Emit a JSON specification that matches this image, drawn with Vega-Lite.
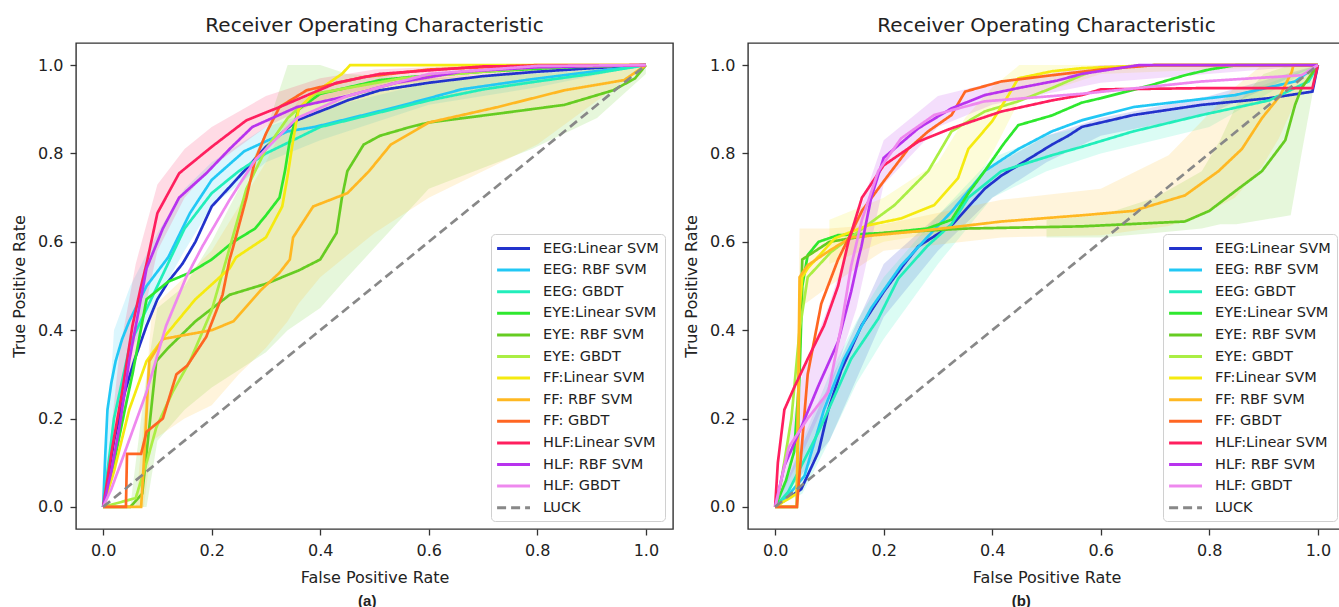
{
"$schema": "https://vega.github.io/schema/vega-lite/v6.json",
"background": "white",
"padding": {"left": 10, "top": 15, "right": 0, "bottom": 0},
"config": {
  "font": "DejaVu Sans",
  "view": {"stroke": "#333333", "strokeWidth": 1.4},
  "axis": {"grid": false, "domain": false, "tickColor": "#333333", "tickWidth": 1.3, "tickSize": 6, "labelColor": "#222222", "labelFontSize": 16, "labelFont": "DejaVu Sans", "titleFont": "DejaVu Sans", "titleFontSize": 16, "titleFontWeight": "normal", "titleColor": "#222222", "labelPadding": 7},
  "axisY": {"titlePadding": 10},
  "axisX": {"titlePadding": 11},
  "legend": {"orient": "bottom-right", "offset": 8, "strokeColor": "#d0d0d0", "fillColor": "rgba(255,255,255,0.85)", "padding": 6, "cornerRadius": 4, "symbolType": "M-1.2,0H3.5", "symbolStrokeWidth": 3, "symbolSize": 196, "labelFontSize": 14.5, "labelFont": "DejaVu Sans", "labelColor": "#222222", "labelLimit": 0, "labelOffset": 29, "rowPadding": 6.6},
  "title": {"font": "DejaVu Sans", "fontSize": 20, "fontWeight": "normal", "color": "#222222", "offset": 7}
},
"datasets": {
  "linesA": [
    {"series":"EEG:Linear SVM","fpr":0,"tpr":0},{"series":"EEG:Linear SVM","fpr":0.02,"tpr":0.15},{"series":"EEG:Linear SVM","fpr":0.04,"tpr":0.26},{"series":"EEG:Linear SVM","fpr":0.057,"tpr":0.33},{"series":"EEG:Linear SVM","fpr":0.08,"tpr":0.41},{"series":"EEG:Linear SVM","fpr":0.1,"tpr":0.47},{"series":"EEG:Linear SVM","fpr":0.12,"tpr":0.51},{"series":"EEG:Linear SVM","fpr":0.146,"tpr":0.55},{"series":"EEG:Linear SVM","fpr":0.17,"tpr":0.6},{"series":"EEG:Linear SVM","fpr":0.2,"tpr":0.68},{"series":"EEG:Linear SVM","fpr":0.245,"tpr":0.74},{"series":"EEG:Linear SVM","fpr":0.3,"tpr":0.815},{"series":"EEG:Linear SVM","fpr":0.357,"tpr":0.875},{"series":"EEG:Linear SVM","fpr":0.42,"tpr":0.905},{"series":"EEG:Linear SVM","fpr":0.45,"tpr":0.92},{"series":"EEG:Linear SVM","fpr":0.51,"tpr":0.943},{"series":"EEG:Linear SVM","fpr":0.6,"tpr":0.96},{"series":"EEG:Linear SVM","fpr":0.7,"tpr":0.975},{"series":"EEG:Linear SVM","fpr":0.8,"tpr":0.985},{"series":"EEG:Linear SVM","fpr":0.9,"tpr":0.993},{"series":"EEG:Linear SVM","fpr":1,"tpr":1},
    {"series":"EEG: RBF SVM","fpr":0,"tpr":0},{"series":"EEG: RBF SVM","fpr":0.004,"tpr":0.12},{"series":"EEG: RBF SVM","fpr":0.008,"tpr":0.22},{"series":"EEG: RBF SVM","fpr":0.015,"tpr":0.28},{"series":"EEG: RBF SVM","fpr":0.023,"tpr":0.33},{"series":"EEG: RBF SVM","fpr":0.035,"tpr":0.38},{"series":"EEG: RBF SVM","fpr":0.048,"tpr":0.42},{"series":"EEG: RBF SVM","fpr":0.08,"tpr":0.5},{"series":"EEG: RBF SVM","fpr":0.12,"tpr":0.565},{"series":"EEG: RBF SVM","fpr":0.16,"tpr":0.665},{"series":"EEG: RBF SVM","fpr":0.2,"tpr":0.74},{"series":"EEG: RBF SVM","fpr":0.26,"tpr":0.805},{"series":"EEG: RBF SVM","fpr":0.34,"tpr":0.85},{"series":"EEG: RBF SVM","fpr":0.39,"tpr":0.86},{"series":"EEG: RBF SVM","fpr":0.44,"tpr":0.875},{"series":"EEG: RBF SVM","fpr":0.54,"tpr":0.905},{"series":"EEG: RBF SVM","fpr":0.66,"tpr":0.945},{"series":"EEG: RBF SVM","fpr":0.79,"tpr":0.968},{"series":"EEG: RBF SVM","fpr":0.9,"tpr":0.985},{"series":"EEG: RBF SVM","fpr":0.97,"tpr":0.995},{"series":"EEG: RBF SVM","fpr":1,"tpr":1},
    {"series":"EEG: GBDT","fpr":0,"tpr":0},{"series":"EEG: GBDT","fpr":0.01,"tpr":0.1},{"series":"EEG: GBDT","fpr":0.02,"tpr":0.2},{"series":"EEG: GBDT","fpr":0.05,"tpr":0.37},{"series":"EEG: GBDT","fpr":0.1,"tpr":0.5},{"series":"EEG: GBDT","fpr":0.15,"tpr":0.63},{"series":"EEG: GBDT","fpr":0.2,"tpr":0.71},{"series":"EEG: GBDT","fpr":0.25,"tpr":0.76},{"series":"EEG: GBDT","fpr":0.3,"tpr":0.8},{"series":"EEG: GBDT","fpr":0.4,"tpr":0.86},{"series":"EEG: GBDT","fpr":0.5,"tpr":0.89},{"series":"EEG: GBDT","fpr":0.6,"tpr":0.92},{"series":"EEG: GBDT","fpr":0.7,"tpr":0.945},{"series":"EEG: GBDT","fpr":0.8,"tpr":0.963},{"series":"EEG: GBDT","fpr":0.9,"tpr":0.98},{"series":"EEG: GBDT","fpr":1,"tpr":1},
    {"series":"EYE:Linear SVM","fpr":0,"tpr":0},{"series":"EYE:Linear SVM","fpr":0.02,"tpr":0.1},{"series":"EYE:Linear SVM","fpr":0.04,"tpr":0.22},{"series":"EYE:Linear SVM","fpr":0.054,"tpr":0.3},{"series":"EYE:Linear SVM","fpr":0.08,"tpr":0.47},{"series":"EYE:Linear SVM","fpr":0.12,"tpr":0.51},{"series":"EYE:Linear SVM","fpr":0.16,"tpr":0.53},{"series":"EYE:Linear SVM","fpr":0.2,"tpr":0.56},{"series":"EYE:Linear SVM","fpr":0.24,"tpr":0.6},{"series":"EYE:Linear SVM","fpr":0.28,"tpr":0.63},{"series":"EYE:Linear SVM","fpr":0.3,"tpr":0.66},{"series":"EYE:Linear SVM","fpr":0.325,"tpr":0.7},{"series":"EYE:Linear SVM","fpr":0.335,"tpr":0.76},{"series":"EYE:Linear SVM","fpr":0.344,"tpr":0.83},{"series":"EYE:Linear SVM","fpr":0.36,"tpr":0.9},{"series":"EYE:Linear SVM","fpr":0.4,"tpr":0.935},{"series":"EYE:Linear SVM","fpr":0.51,"tpr":0.966},{"series":"EYE:Linear SVM","fpr":0.566,"tpr":0.973},{"series":"EYE:Linear SVM","fpr":0.7,"tpr":0.985},{"series":"EYE:Linear SVM","fpr":0.85,"tpr":0.995},{"series":"EYE:Linear SVM","fpr":1,"tpr":1},
    {"series":"EYE: RBF SVM","fpr":0,"tpr":0},{"series":"EYE: RBF SVM","fpr":0.05,"tpr":0},{"series":"EYE: RBF SVM","fpr":0.072,"tpr":0.03},{"series":"EYE: RBF SVM","fpr":0.085,"tpr":0.18},{"series":"EYE: RBF SVM","fpr":0.098,"tpr":0.33},{"series":"EYE: RBF SVM","fpr":0.12,"tpr":0.36},{"series":"EYE: RBF SVM","fpr":0.17,"tpr":0.42},{"series":"EYE: RBF SVM","fpr":0.233,"tpr":0.48},{"series":"EYE: RBF SVM","fpr":0.3,"tpr":0.505},{"series":"EYE: RBF SVM","fpr":0.36,"tpr":0.535},{"series":"EYE: RBF SVM","fpr":0.4,"tpr":0.56},{"series":"EYE: RBF SVM","fpr":0.43,"tpr":0.62},{"series":"EYE: RBF SVM","fpr":0.44,"tpr":0.7},{"series":"EYE: RBF SVM","fpr":0.45,"tpr":0.76},{"series":"EYE: RBF SVM","fpr":0.48,"tpr":0.82},{"series":"EYE: RBF SVM","fpr":0.51,"tpr":0.84},{"series":"EYE: RBF SVM","fpr":0.566,"tpr":0.86},{"series":"EYE: RBF SVM","fpr":0.6,"tpr":0.87},{"series":"EYE: RBF SVM","fpr":0.727,"tpr":0.89},{"series":"EYE: RBF SVM","fpr":0.85,"tpr":0.91},{"series":"EYE: RBF SVM","fpr":0.94,"tpr":0.943},{"series":"EYE: RBF SVM","fpr":0.98,"tpr":0.97},{"series":"EYE: RBF SVM","fpr":1,"tpr":1},
    {"series":"EYE: GBDT","fpr":0,"tpr":0},{"series":"EYE: GBDT","fpr":0.06,"tpr":0.02},{"series":"EYE: GBDT","fpr":0.08,"tpr":0.1},{"series":"EYE: GBDT","fpr":0.098,"tpr":0.18},{"series":"EYE: GBDT","fpr":0.128,"tpr":0.26},{"series":"EYE: GBDT","fpr":0.16,"tpr":0.33},{"series":"EYE: GBDT","fpr":0.2,"tpr":0.445},{"series":"EYE: GBDT","fpr":0.227,"tpr":0.56},{"series":"EYE: GBDT","fpr":0.264,"tpr":0.72},{"series":"EYE: GBDT","fpr":0.3,"tpr":0.81},{"series":"EYE: GBDT","fpr":0.34,"tpr":0.88},{"series":"EYE: GBDT","fpr":0.39,"tpr":0.935},{"series":"EYE: GBDT","fpr":0.55,"tpr":0.97},{"series":"EYE: GBDT","fpr":0.8,"tpr":0.995},{"series":"EYE: GBDT","fpr":1,"tpr":1},
    {"series":"FF:Linear SVM","fpr":0,"tpr":0},{"series":"FF:Linear SVM","fpr":0.02,"tpr":0.08},{"series":"FF:Linear SVM","fpr":0.048,"tpr":0.22},{"series":"FF:Linear SVM","fpr":0.08,"tpr":0.33},{"series":"FF:Linear SVM","fpr":0.116,"tpr":0.39},{"series":"FF:Linear SVM","fpr":0.17,"tpr":0.47},{"series":"FF:Linear SVM","fpr":0.233,"tpr":0.54},{"series":"FF:Linear SVM","fpr":0.245,"tpr":0.565},{"series":"FF:Linear SVM","fpr":0.3,"tpr":0.61},{"series":"FF:Linear SVM","fpr":0.33,"tpr":0.68},{"series":"FF:Linear SVM","fpr":0.34,"tpr":0.75},{"series":"FF:Linear SVM","fpr":0.35,"tpr":0.83},{"series":"FF:Linear SVM","fpr":0.36,"tpr":0.9},{"series":"FF:Linear SVM","fpr":0.387,"tpr":0.935},{"series":"FF:Linear SVM","fpr":0.44,"tpr":0.98},{"series":"FF:Linear SVM","fpr":0.455,"tpr":1},{"series":"FF:Linear SVM","fpr":1,"tpr":1},
    {"series":"FF: RBF SVM","fpr":0,"tpr":0},{"series":"FF: RBF SVM","fpr":0.07,"tpr":0},{"series":"FF: RBF SVM","fpr":0.075,"tpr":0.1},{"series":"FF: RBF SVM","fpr":0.085,"tpr":0.33},{"series":"FF: RBF SVM","fpr":0.11,"tpr":0.38},{"series":"FF: RBF SVM","fpr":0.2,"tpr":0.4},{"series":"FF: RBF SVM","fpr":0.24,"tpr":0.42},{"series":"FF: RBF SVM","fpr":0.29,"tpr":0.49},{"series":"FF: RBF SVM","fpr":0.325,"tpr":0.53},{"series":"FF: RBF SVM","fpr":0.344,"tpr":0.56},{"series":"FF: RBF SVM","fpr":0.35,"tpr":0.61},{"series":"FF: RBF SVM","fpr":0.387,"tpr":0.68},{"series":"FF: RBF SVM","fpr":0.45,"tpr":0.71},{"series":"FF: RBF SVM","fpr":0.49,"tpr":0.76},{"series":"FF: RBF SVM","fpr":0.53,"tpr":0.82},{"series":"FF: RBF SVM","fpr":0.6,"tpr":0.87},{"series":"FF: RBF SVM","fpr":0.727,"tpr":0.905},{"series":"FF: RBF SVM","fpr":0.85,"tpr":0.943},{"series":"FF: RBF SVM","fpr":0.96,"tpr":0.966},{"series":"FF: RBF SVM","fpr":1,"tpr":1},
    {"series":"FF: GBDT","fpr":0,"tpr":0},{"series":"FF: GBDT","fpr":0.042,"tpr":0},{"series":"FF: GBDT","fpr":0.044,"tpr":0.12},{"series":"FF: GBDT","fpr":0.07,"tpr":0.12},{"series":"FF: GBDT","fpr":0.08,"tpr":0.17},{"series":"FF: GBDT","fpr":0.11,"tpr":0.2},{"series":"FF: GBDT","fpr":0.135,"tpr":0.3},{"series":"FF: GBDT","fpr":0.155,"tpr":0.32},{"series":"FF: GBDT","fpr":0.19,"tpr":0.385},{"series":"FF: GBDT","fpr":0.22,"tpr":0.48},{"series":"FF: GBDT","fpr":0.233,"tpr":0.56},{"series":"FF: GBDT","fpr":0.24,"tpr":0.59},{"series":"FF: GBDT","fpr":0.264,"tpr":0.7},{"series":"FF: GBDT","fpr":0.28,"tpr":0.785},{"series":"FF: GBDT","fpr":0.3,"tpr":0.845},{"series":"FF: GBDT","fpr":0.325,"tpr":0.905},{"series":"FF: GBDT","fpr":0.375,"tpr":0.943},{"series":"FF: GBDT","fpr":0.48,"tpr":0.973},{"series":"FF: GBDT","fpr":0.6,"tpr":0.99},{"series":"FF: GBDT","fpr":0.8,"tpr":1},{"series":"FF: GBDT","fpr":1,"tpr":1},
    {"series":"HLF:Linear SVM","fpr":0,"tpr":0},{"series":"HLF:Linear SVM","fpr":0.017,"tpr":0.135},{"series":"HLF:Linear SVM","fpr":0.035,"tpr":0.26},{"series":"HLF:Linear SVM","fpr":0.054,"tpr":0.41},{"series":"HLF:Linear SVM","fpr":0.07,"tpr":0.5},{"series":"HLF:Linear SVM","fpr":0.08,"tpr":0.55},{"series":"HLF:Linear SVM","fpr":0.1,"tpr":0.665},{"series":"HLF:Linear SVM","fpr":0.14,"tpr":0.755},{"series":"HLF:Linear SVM","fpr":0.2,"tpr":0.815},{"series":"HLF:Linear SVM","fpr":0.264,"tpr":0.875},{"series":"HLF:Linear SVM","fpr":0.325,"tpr":0.905},{"series":"HLF:Linear SVM","fpr":0.43,"tpr":0.96},{"series":"HLF:Linear SVM","fpr":0.51,"tpr":0.98},{"series":"HLF:Linear SVM","fpr":0.7,"tpr":0.997},{"series":"HLF:Linear SVM","fpr":1,"tpr":1},
    {"series":"HLF: RBF SVM","fpr":0,"tpr":0},{"series":"HLF: RBF SVM","fpr":0.015,"tpr":0.08},{"series":"HLF: RBF SVM","fpr":0.03,"tpr":0.18},{"series":"HLF: RBF SVM","fpr":0.048,"tpr":0.33},{"series":"HLF: RBF SVM","fpr":0.08,"tpr":0.54},{"series":"HLF: RBF SVM","fpr":0.11,"tpr":0.63},{"series":"HLF: RBF SVM","fpr":0.14,"tpr":0.7},{"series":"HLF: RBF SVM","fpr":0.19,"tpr":0.755},{"series":"HLF: RBF SVM","fpr":0.233,"tpr":0.81},{"series":"HLF: RBF SVM","fpr":0.275,"tpr":0.86},{"series":"HLF: RBF SVM","fpr":0.357,"tpr":0.905},{"series":"HLF: RBF SVM","fpr":0.45,"tpr":0.93},{"series":"HLF: RBF SVM","fpr":0.54,"tpr":0.96},{"series":"HLF: RBF SVM","fpr":0.66,"tpr":0.985},{"series":"HLF: RBF SVM","fpr":0.8,"tpr":0.995},{"series":"HLF: RBF SVM","fpr":1,"tpr":1},
    {"series":"HLF: GBDT","fpr":0,"tpr":0},{"series":"HLF: GBDT","fpr":0.015,"tpr":0.04},{"series":"HLF: GBDT","fpr":0.03,"tpr":0.09},{"series":"HLF: GBDT","fpr":0.08,"tpr":0.26},{"series":"HLF: GBDT","fpr":0.116,"tpr":0.41},{"series":"HLF: GBDT","fpr":0.153,"tpr":0.52},{"series":"HLF: GBDT","fpr":0.183,"tpr":0.59},{"series":"HLF: GBDT","fpr":0.233,"tpr":0.695},{"series":"HLF: GBDT","fpr":0.28,"tpr":0.785},{"series":"HLF: GBDT","fpr":0.357,"tpr":0.88},{"series":"HLF: GBDT","fpr":0.45,"tpr":0.93},{"series":"HLF: GBDT","fpr":0.6,"tpr":0.98},{"series":"HLF: GBDT","fpr":0.8,"tpr":0.998},{"series":"HLF: GBDT","fpr":1,"tpr":1},
    {"series":"LUCK","fpr":0,"tpr":0},{"series":"LUCK","fpr":1,"tpr":1}
  ],
  "linesB": [
    {"series":"EEG:Linear SVM","fpr":0,"tpr":0},{"series":"EEG:Linear SVM","fpr":0.048,"tpr":0.04},{"series":"EEG:Linear SVM","fpr":0.08,"tpr":0.125},{"series":"EEG:Linear SVM","fpr":0.098,"tpr":0.22},{"series":"EEG:Linear SVM","fpr":0.122,"tpr":0.31},{"series":"EEG:Linear SVM","fpr":0.159,"tpr":0.41},{"series":"EEG:Linear SVM","fpr":0.2,"tpr":0.487},{"series":"EEG:Linear SVM","fpr":0.238,"tpr":0.55},{"series":"EEG:Linear SVM","fpr":0.264,"tpr":0.59},{"series":"EEG:Linear SVM","fpr":0.325,"tpr":0.637},{"series":"EEG:Linear SVM","fpr":0.386,"tpr":0.72},{"series":"EEG:Linear SVM","fpr":0.417,"tpr":0.75},{"series":"EEG:Linear SVM","fpr":0.448,"tpr":0.773},{"series":"EEG:Linear SVM","fpr":0.51,"tpr":0.82},{"series":"EEG:Linear SVM","fpr":0.54,"tpr":0.84},{"series":"EEG:Linear SVM","fpr":0.565,"tpr":0.86},{"series":"EEG:Linear SVM","fpr":0.66,"tpr":0.887},{"series":"EEG:Linear SVM","fpr":0.786,"tpr":0.91},{"series":"EEG:Linear SVM","fpr":0.91,"tpr":0.925},{"series":"EEG:Linear SVM","fpr":0.99,"tpr":0.94},{"series":"EEG:Linear SVM","fpr":1,"tpr":1},
    {"series":"EEG: RBF SVM","fpr":0,"tpr":0},{"series":"EEG: RBF SVM","fpr":0.02,"tpr":0.02},{"series":"EEG: RBF SVM","fpr":0.054,"tpr":0.07},{"series":"EEG: RBF SVM","fpr":0.09,"tpr":0.22},{"series":"EEG: RBF SVM","fpr":0.127,"tpr":0.335},{"series":"EEG: RBF SVM","fpr":0.177,"tpr":0.45},{"series":"EEG: RBF SVM","fpr":0.232,"tpr":0.546},{"series":"EEG: RBF SVM","fpr":0.28,"tpr":0.61},{"series":"EEG: RBF SVM","fpr":0.325,"tpr":0.668},{"series":"EEG: RBF SVM","fpr":0.386,"tpr":0.76},{"series":"EEG: RBF SVM","fpr":0.448,"tpr":0.81},{"series":"EEG: RBF SVM","fpr":0.51,"tpr":0.85},{"series":"EEG: RBF SVM","fpr":0.565,"tpr":0.875},{"series":"EEG: RBF SVM","fpr":0.66,"tpr":0.905},{"series":"EEG: RBF SVM","fpr":0.847,"tpr":0.932},{"series":"EEG: RBF SVM","fpr":0.958,"tpr":0.963},{"series":"EEG: RBF SVM","fpr":1,"tpr":1},
    {"series":"EEG: GBDT","fpr":0,"tpr":0},{"series":"EEG: GBDT","fpr":0.024,"tpr":0.034},{"series":"EEG: GBDT","fpr":0.08,"tpr":0.17},{"series":"EEG: GBDT","fpr":0.14,"tpr":0.335},{"series":"EEG: GBDT","fpr":0.19,"tpr":0.426},{"series":"EEG: GBDT","fpr":0.227,"tpr":0.517},{"series":"EEG: GBDT","fpr":0.28,"tpr":0.59},{"series":"EEG: GBDT","fpr":0.325,"tpr":0.64},{"series":"EEG: GBDT","fpr":0.356,"tpr":0.7},{"series":"EEG: GBDT","fpr":0.417,"tpr":0.76},{"series":"EEG: GBDT","fpr":0.51,"tpr":0.796},{"series":"EEG: GBDT","fpr":0.565,"tpr":0.815},{"series":"EEG: GBDT","fpr":0.66,"tpr":0.85},{"series":"EEG: GBDT","fpr":0.786,"tpr":0.887},{"series":"EEG: GBDT","fpr":0.91,"tpr":0.92},{"series":"EEG: GBDT","fpr":0.983,"tpr":0.963},{"series":"EEG: GBDT","fpr":1,"tpr":1},
    {"series":"EYE:Linear SVM","fpr":0,"tpr":0},{"series":"EYE:Linear SVM","fpr":0.02,"tpr":0.06},{"series":"EYE:Linear SVM","fpr":0.035,"tpr":0.125},{"series":"EYE:Linear SVM","fpr":0.045,"tpr":0.3},{"series":"EYE:Linear SVM","fpr":0.05,"tpr":0.5},{"series":"EYE:Linear SVM","fpr":0.06,"tpr":0.57},{"series":"EYE:Linear SVM","fpr":0.08,"tpr":0.6},{"series":"EYE:Linear SVM","fpr":0.116,"tpr":0.615},{"series":"EYE:Linear SVM","fpr":0.2,"tpr":0.62},{"series":"EYE:Linear SVM","fpr":0.28,"tpr":0.63},{"series":"EYE:Linear SVM","fpr":0.325,"tpr":0.65},{"series":"EYE:Linear SVM","fpr":0.356,"tpr":0.71},{"series":"EYE:Linear SVM","fpr":0.386,"tpr":0.76},{"series":"EYE:Linear SVM","fpr":0.42,"tpr":0.82},{"series":"EYE:Linear SVM","fpr":0.448,"tpr":0.864},{"series":"EYE:Linear SVM","fpr":0.51,"tpr":0.886},{"series":"EYE:Linear SVM","fpr":0.565,"tpr":0.915},{"series":"EYE:Linear SVM","fpr":0.6,"tpr":0.925},{"series":"EYE:Linear SVM","fpr":0.694,"tpr":0.955},{"series":"EYE:Linear SVM","fpr":0.755,"tpr":0.977},{"series":"EYE:Linear SVM","fpr":0.8,"tpr":0.99},{"series":"EYE:Linear SVM","fpr":0.85,"tpr":1},{"series":"EYE:Linear SVM","fpr":1,"tpr":1},
    {"series":"EYE: RBF SVM","fpr":0,"tpr":0},{"series":"EYE: RBF SVM","fpr":0.04,"tpr":0},{"series":"EYE: RBF SVM","fpr":0.045,"tpr":0.35},{"series":"EYE: RBF SVM","fpr":0.05,"tpr":0.56},{"series":"EYE: RBF SVM","fpr":0.1,"tpr":0.6},{"series":"EYE: RBF SVM","fpr":0.2,"tpr":0.62},{"series":"EYE: RBF SVM","fpr":0.35,"tpr":0.63},{"series":"EYE: RBF SVM","fpr":0.565,"tpr":0.635},{"series":"EYE: RBF SVM","fpr":0.755,"tpr":0.646},{"series":"EYE: RBF SVM","fpr":0.8,"tpr":0.67},{"series":"EYE: RBF SVM","fpr":0.847,"tpr":0.714},{"series":"EYE: RBF SVM","fpr":0.897,"tpr":0.76},{"series":"EYE: RBF SVM","fpr":0.94,"tpr":0.83},{"series":"EYE: RBF SVM","fpr":0.958,"tpr":0.91},{"series":"EYE: RBF SVM","fpr":0.97,"tpr":0.948},{"series":"EYE: RBF SVM","fpr":1,"tpr":1},
    {"series":"EYE: GBDT","fpr":0,"tpr":0},{"series":"EYE: GBDT","fpr":0.01,"tpr":0.05},{"series":"EYE: GBDT","fpr":0.03,"tpr":0.2},{"series":"EYE: GBDT","fpr":0.045,"tpr":0.4},{"series":"EYE: GBDT","fpr":0.06,"tpr":0.52},{"series":"EYE: GBDT","fpr":0.103,"tpr":0.577},{"series":"EYE: GBDT","fpr":0.15,"tpr":0.62},{"series":"EYE: GBDT","fpr":0.22,"tpr":0.683},{"series":"EYE: GBDT","fpr":0.282,"tpr":0.76},{"series":"EYE: GBDT","fpr":0.325,"tpr":0.85},{"series":"EYE: GBDT","fpr":0.386,"tpr":0.895},{"series":"EYE: GBDT","fpr":0.448,"tpr":0.918},{"series":"EYE: GBDT","fpr":0.51,"tpr":0.948},{"series":"EYE: GBDT","fpr":0.565,"tpr":0.977},{"series":"EYE: GBDT","fpr":0.6,"tpr":0.993},{"series":"EYE: GBDT","fpr":0.7,"tpr":1},{"series":"EYE: GBDT","fpr":1,"tpr":1},
    {"series":"FF:Linear SVM","fpr":0,"tpr":0},{"series":"FF:Linear SVM","fpr":0.04,"tpr":0.03},{"series":"FF:Linear SVM","fpr":0.045,"tpr":0.45},{"series":"FF:Linear SVM","fpr":0.05,"tpr":0.52},{"series":"FF:Linear SVM","fpr":0.06,"tpr":0.54},{"series":"FF:Linear SVM","fpr":0.11,"tpr":0.608},{"series":"FF:Linear SVM","fpr":0.17,"tpr":0.637},{"series":"FF:Linear SVM","fpr":0.232,"tpr":0.653},{"series":"FF:Linear SVM","fpr":0.293,"tpr":0.683},{"series":"FF:Linear SVM","fpr":0.337,"tpr":0.744},{"series":"FF:Linear SVM","fpr":0.356,"tpr":0.81},{"series":"FF:Linear SVM","fpr":0.4,"tpr":0.873},{"series":"FF:Linear SVM","fpr":0.43,"tpr":0.932},{"series":"FF:Linear SVM","fpr":0.448,"tpr":0.97},{"series":"FF:Linear SVM","fpr":0.51,"tpr":0.986},{"series":"FF:Linear SVM","fpr":0.565,"tpr":0.993},{"series":"FF:Linear SVM","fpr":0.7,"tpr":1},{"series":"FF:Linear SVM","fpr":1,"tpr":1},
    {"series":"FF: RBF SVM","fpr":0,"tpr":0},{"series":"FF: RBF SVM","fpr":0.04,"tpr":0},{"series":"FF: RBF SVM","fpr":0.043,"tpr":0.3},{"series":"FF: RBF SVM","fpr":0.045,"tpr":0.52},{"series":"FF: RBF SVM","fpr":0.06,"tpr":0.547},{"series":"FF: RBF SVM","fpr":0.1,"tpr":0.58},{"series":"FF: RBF SVM","fpr":0.14,"tpr":0.61},{"series":"FF: RBF SVM","fpr":0.264,"tpr":0.624},{"series":"FF: RBF SVM","fpr":0.417,"tpr":0.646},{"series":"FF: RBF SVM","fpr":0.565,"tpr":0.66},{"series":"FF: RBF SVM","fpr":0.66,"tpr":0.67},{"series":"FF: RBF SVM","fpr":0.755,"tpr":0.705},{"series":"FF: RBF SVM","fpr":0.817,"tpr":0.76},{"series":"FF: RBF SVM","fpr":0.86,"tpr":0.81},{"series":"FF: RBF SVM","fpr":0.897,"tpr":0.88},{"series":"FF: RBF SVM","fpr":0.93,"tpr":0.93},{"series":"FF: RBF SVM","fpr":0.952,"tpr":0.985},{"series":"FF: RBF SVM","fpr":0.955,"tpr":1},{"series":"FF: RBF SVM","fpr":1,"tpr":1},
    {"series":"FF: GBDT","fpr":0,"tpr":0},{"series":"FF: GBDT","fpr":0.04,"tpr":0},{"series":"FF: GBDT","fpr":0.05,"tpr":0.15},{"series":"FF: GBDT","fpr":0.06,"tpr":0.3},{"series":"FF: GBDT","fpr":0.085,"tpr":0.46},{"series":"FF: GBDT","fpr":0.116,"tpr":0.56},{"series":"FF: GBDT","fpr":0.16,"tpr":0.67},{"series":"FF: GBDT","fpr":0.2,"tpr":0.737},{"series":"FF: GBDT","fpr":0.245,"tpr":0.81},{"series":"FF: GBDT","fpr":0.282,"tpr":0.85},{"series":"FF: GBDT","fpr":0.325,"tpr":0.887},{"series":"FF: GBDT","fpr":0.35,"tpr":0.94},{"series":"FF: GBDT","fpr":0.417,"tpr":0.963},{"series":"FF: GBDT","fpr":0.51,"tpr":0.977},{"series":"FF: GBDT","fpr":0.6,"tpr":0.99},{"series":"FF: GBDT","fpr":0.7,"tpr":1},{"series":"FF: GBDT","fpr":1,"tpr":1},
    {"series":"HLF:Linear SVM","fpr":0,"tpr":0},{"series":"HLF:Linear SVM","fpr":0.005,"tpr":0.1},{"series":"HLF:Linear SVM","fpr":0.017,"tpr":0.22},{"series":"HLF:Linear SVM","fpr":0.035,"tpr":0.27},{"series":"HLF:Linear SVM","fpr":0.06,"tpr":0.335},{"series":"HLF:Linear SVM","fpr":0.09,"tpr":0.41},{"series":"HLF:Linear SVM","fpr":0.116,"tpr":0.5},{"series":"HLF:Linear SVM","fpr":0.135,"tpr":0.6},{"series":"HLF:Linear SVM","fpr":0.16,"tpr":0.7},{"series":"HLF:Linear SVM","fpr":0.2,"tpr":0.773},{"series":"HLF:Linear SVM","fpr":0.264,"tpr":0.827},{"series":"HLF:Linear SVM","fpr":0.325,"tpr":0.857},{"series":"HLF:Linear SVM","fpr":0.417,"tpr":0.895},{"series":"HLF:Linear SVM","fpr":0.51,"tpr":0.92},{"series":"HLF:Linear SVM","fpr":0.565,"tpr":0.932},{"series":"HLF:Linear SVM","fpr":0.6,"tpr":0.945},{"series":"HLF:Linear SVM","fpr":0.8,"tpr":0.948},{"series":"HLF:Linear SVM","fpr":0.99,"tpr":0.948},{"series":"HLF:Linear SVM","fpr":1,"tpr":1},
    {"series":"HLF: RBF SVM","fpr":0,"tpr":0},{"series":"HLF: RBF SVM","fpr":0.017,"tpr":0.093},{"series":"HLF: RBF SVM","fpr":0.048,"tpr":0.18},{"series":"HLF: RBF SVM","fpr":0.08,"tpr":0.275},{"series":"HLF: RBF SVM","fpr":0.116,"tpr":0.374},{"series":"HLF: RBF SVM","fpr":0.14,"tpr":0.487},{"series":"HLF: RBF SVM","fpr":0.153,"tpr":0.56},{"series":"HLF: RBF SVM","fpr":0.159,"tpr":0.59},{"series":"HLF: RBF SVM","fpr":0.177,"tpr":0.7},{"series":"HLF: RBF SVM","fpr":0.2,"tpr":0.79},{"series":"HLF: RBF SVM","fpr":0.264,"tpr":0.857},{"series":"HLF: RBF SVM","fpr":0.325,"tpr":0.902},{"series":"HLF: RBF SVM","fpr":0.386,"tpr":0.932},{"series":"HLF: RBF SVM","fpr":0.448,"tpr":0.948},{"series":"HLF: RBF SVM","fpr":0.52,"tpr":0.965},{"series":"HLF: RBF SVM","fpr":0.565,"tpr":0.98},{"series":"HLF: RBF SVM","fpr":0.67,"tpr":1},{"series":"HLF: RBF SVM","fpr":1,"tpr":1},
    {"series":"HLF: GBDT","fpr":0,"tpr":0},{"series":"HLF: GBDT","fpr":0.025,"tpr":0.135},{"series":"HLF: GBDT","fpr":0.06,"tpr":0.2},{"series":"HLF: GBDT","fpr":0.098,"tpr":0.26},{"series":"HLF: GBDT","fpr":0.122,"tpr":0.41},{"series":"HLF: GBDT","fpr":0.14,"tpr":0.545},{"series":"HLF: GBDT","fpr":0.16,"tpr":0.65},{"series":"HLF: GBDT","fpr":0.19,"tpr":0.76},{"series":"HLF: GBDT","fpr":0.232,"tpr":0.834},{"series":"HLF: GBDT","fpr":0.293,"tpr":0.887},{"series":"HLF: GBDT","fpr":0.386,"tpr":0.918},{"series":"HLF: GBDT","fpr":0.565,"tpr":0.935},{"series":"HLF: GBDT","fpr":0.786,"tpr":0.963},{"series":"HLF: GBDT","fpr":0.97,"tpr":0.977},{"series":"HLF: GBDT","fpr":1,"tpr":1},
    {"series":"LUCK","fpr":0,"tpr":0},{"series":"LUCK","fpr":1,"tpr":1}
  ],
  "bandsA": [
    {"series":"EEG: RBF SVM","fpr":0,"lo":0,"hi":0},{"series":"EEG: RBF SVM","fpr":0.02,"lo":0.2,"hi":0.4},{"series":"EEG: RBF SVM","fpr":0.05,"lo":0.35,"hi":0.5},{"series":"EEG: RBF SVM","fpr":0.1,"lo":0.47,"hi":0.62},{"series":"EEG: RBF SVM","fpr":0.15,"lo":0.58,"hi":0.72},{"series":"EEG: RBF SVM","fpr":0.2,"lo":0.68,"hi":0.78},{"series":"EEG: RBF SVM","fpr":0.3,"lo":0.78,"hi":0.86},{"series":"EEG: RBF SVM","fpr":0.4,"lo":0.83,"hi":0.9},{"series":"EEG: RBF SVM","fpr":0.5,"lo":0.87,"hi":0.93},{"series":"EEG: RBF SVM","fpr":0.6,"lo":0.91,"hi":0.96},{"series":"EEG: RBF SVM","fpr":0.8,"lo":0.95,"hi":0.99},{"series":"EEG: RBF SVM","fpr":1,"lo":1,"hi":1},
    {"series":"EYE: RBF SVM","fpr":0.05,"lo":0,"hi":0},{"series":"EYE: RBF SVM","fpr":0.08,"lo":0,"hi":0.3},{"series":"EYE: RBF SVM","fpr":0.1,"lo":0.15,"hi":0.45},{"series":"EYE: RBF SVM","fpr":0.15,"lo":0.22,"hi":0.5},{"series":"EYE: RBF SVM","fpr":0.2,"lo":0.27,"hi":0.6},{"series":"EYE: RBF SVM","fpr":0.25,"lo":0.31,"hi":0.72},{"series":"EYE: RBF SVM","fpr":0.3,"lo":0.35,"hi":0.85},{"series":"EYE: RBF SVM","fpr":0.34,"lo":0.4,"hi":1},{"series":"EYE: RBF SVM","fpr":0.4,"lo":0.45,"hi":1},{"series":"EYE: RBF SVM","fpr":0.45,"lo":0.52,"hi":0.98},{"series":"EYE: RBF SVM","fpr":0.6,"lo":0.72,"hi":0.97},{"series":"EYE: RBF SVM","fpr":0.79,"lo":0.81,"hi":0.98},{"series":"EYE: RBF SVM","fpr":0.91,"lo":0.88,"hi":0.99},{"series":"EYE: RBF SVM","fpr":1,"lo":0.98,"hi":1},
    {"series":"FF: RBF SVM","fpr":0.06,"lo":0,"hi":0},{"series":"FF: RBF SVM","fpr":0.075,"lo":0,"hi":0.2},{"series":"FF: RBF SVM","fpr":0.09,"lo":0.15,"hi":0.45},{"series":"FF: RBF SVM","fpr":0.15,"lo":0.2,"hi":0.52},{"series":"FF: RBF SVM","fpr":0.2,"lo":0.23,"hi":0.58},{"series":"FF: RBF SVM","fpr":0.25,"lo":0.3,"hi":0.68},{"series":"FF: RBF SVM","fpr":0.3,"lo":0.36,"hi":0.78},{"series":"FF: RBF SVM","fpr":0.34,"lo":0.42,"hi":0.88},{"series":"FF: RBF SVM","fpr":0.36,"lo":0.46,"hi":0.92},{"series":"FF: RBF SVM","fpr":0.4,"lo":0.52,"hi":0.94},{"series":"FF: RBF SVM","fpr":0.5,"lo":0.62,"hi":0.96},{"series":"FF: RBF SVM","fpr":0.6,"lo":0.7,"hi":0.97},{"series":"FF: RBF SVM","fpr":0.8,"lo":0.82,"hi":0.99},{"series":"FF: RBF SVM","fpr":1,"lo":1,"hi":1},
    {"series":"HLF:Linear SVM","fpr":0,"lo":0,"hi":0},{"series":"HLF:Linear SVM","fpr":0.03,"lo":0.15,"hi":0.35},{"series":"HLF:Linear SVM","fpr":0.06,"lo":0.35,"hi":0.55},{"series":"HLF:Linear SVM","fpr":0.1,"lo":0.58,"hi":0.73},{"series":"HLF:Linear SVM","fpr":0.15,"lo":0.7,"hi":0.81},{"series":"HLF:Linear SVM","fpr":0.2,"lo":0.77,"hi":0.86},{"series":"HLF:Linear SVM","fpr":0.3,"lo":0.86,"hi":0.93},{"series":"HLF:Linear SVM","fpr":0.4,"lo":0.92,"hi":0.97},{"series":"HLF:Linear SVM","fpr":0.5,"lo":0.95,"hi":0.99},{"series":"HLF:Linear SVM","fpr":0.7,"lo":0.98,"hi":1},{"series":"HLF:Linear SVM","fpr":1,"lo":1,"hi":1}
  ],
  "bandsB": [
    {"series":"EEG:Linear SVM","fpr":0,"lo":0,"hi":0},{"series":"EEG:Linear SVM","fpr":0.1,"lo":0.15,"hi":0.28},{"series":"EEG:Linear SVM","fpr":0.2,"lo":0.43,"hi":0.55},{"series":"EEG:Linear SVM","fpr":0.3,"lo":0.58,"hi":0.66},{"series":"EEG:Linear SVM","fpr":0.4,"lo":0.7,"hi":0.77},{"series":"EEG:Linear SVM","fpr":0.5,"lo":0.78,"hi":0.84},{"series":"EEG:Linear SVM","fpr":0.6,"lo":0.84,"hi":0.88},{"series":"EEG:Linear SVM","fpr":0.8,"lo":0.89,"hi":0.93},{"series":"EEG:Linear SVM","fpr":1,"lo":1,"hi":1},
    {"series":"EEG: GBDT","fpr":0,"lo":0,"hi":0},{"series":"EEG: GBDT","fpr":0.05,"lo":0.03,"hi":0.15},{"series":"EEG: GBDT","fpr":0.1,"lo":0.15,"hi":0.3},{"series":"EEG: GBDT","fpr":0.15,"lo":0.28,"hi":0.42},{"series":"EEG: GBDT","fpr":0.2,"lo":0.38,"hi":0.52},{"series":"EEG: GBDT","fpr":0.3,"lo":0.55,"hi":0.66},{"series":"EEG: GBDT","fpr":0.4,"lo":0.7,"hi":0.79},{"series":"EEG: GBDT","fpr":0.5,"lo":0.76,"hi":0.84},{"series":"EEG: GBDT","fpr":0.6,"lo":0.8,"hi":0.87},{"series":"EEG: GBDT","fpr":0.8,"lo":0.86,"hi":0.91},{"series":"EEG: GBDT","fpr":1,"lo":1,"hi":1},
    {"series":"EYE: RBF SVM","fpr":0.5,"lo":0.61,"hi":0.65},{"series":"EYE: RBF SVM","fpr":0.6,"lo":0.61,"hi":0.66},{"series":"EYE: RBF SVM","fpr":0.7,"lo":0.62,"hi":0.7},{"series":"EYE: RBF SVM","fpr":0.786,"lo":0.63,"hi":0.76},{"series":"EYE: RBF SVM","fpr":0.82,"lo":0.64,"hi":0.83},{"series":"EYE: RBF SVM","fpr":0.85,"lo":0.64,"hi":0.91},{"series":"EYE: RBF SVM","fpr":0.9,"lo":0.65,"hi":0.98},{"series":"EYE: RBF SVM","fpr":0.95,"lo":0.66,"hi":1},{"series":"EYE: RBF SVM","fpr":0.97,"lo":0.8,"hi":1},{"series":"EYE: RBF SVM","fpr":1,"lo":1,"hi":1},
    {"series":"FF:Linear SVM","fpr":0.1,"lo":0.55,"hi":0.65},{"series":"FF:Linear SVM","fpr":0.2,"lo":0.6,"hi":0.7},{"series":"FF:Linear SVM","fpr":0.3,"lo":0.62,"hi":0.78},{"series":"FF:Linear SVM","fpr":0.35,"lo":0.7,"hi":0.88},{"series":"FF:Linear SVM","fpr":0.4,"lo":0.8,"hi":0.95},{"series":"FF:Linear SVM","fpr":0.45,"lo":0.92,"hi":1},{"series":"FF:Linear SVM","fpr":0.6,"lo":0.98,"hi":1},{"series":"FF:Linear SVM","fpr":1,"lo":1,"hi":1},
    {"series":"FF: RBF SVM","fpr":0.04,"lo":0,"hi":0.1},{"series":"FF: RBF SVM","fpr":0.045,"lo":0.45,"hi":0.63},{"series":"FF: RBF SVM","fpr":0.1,"lo":0.5,"hi":0.63},{"series":"FF: RBF SVM","fpr":0.2,"lo":0.58,"hi":0.64},{"series":"FF: RBF SVM","fpr":0.417,"lo":0.61,"hi":0.695},{"series":"FF: RBF SVM","fpr":0.6,"lo":0.615,"hi":0.72},{"series":"FF: RBF SVM","fpr":0.725,"lo":0.636,"hi":0.796},{"series":"FF: RBF SVM","fpr":0.786,"lo":0.66,"hi":0.873},{"series":"FF: RBF SVM","fpr":0.847,"lo":0.7,"hi":0.95},{"series":"FF: RBF SVM","fpr":0.897,"lo":0.77,"hi":1},{"series":"FF: RBF SVM","fpr":0.928,"lo":0.834,"hi":1},{"series":"FF: RBF SVM","fpr":0.97,"lo":0.948,"hi":1},{"series":"FF: RBF SVM","fpr":1,"lo":1,"hi":1},
    {"series":"HLF: RBF SVM","fpr":0,"lo":0,"hi":0},{"series":"HLF: RBF SVM","fpr":0.05,"lo":0.12,"hi":0.3},{"series":"HLF: RBF SVM","fpr":0.1,"lo":0.26,"hi":0.46},{"series":"HLF: RBF SVM","fpr":0.15,"lo":0.45,"hi":0.65},{"series":"HLF: RBF SVM","fpr":0.2,"lo":0.73,"hi":0.83},{"series":"HLF: RBF SVM","fpr":0.3,"lo":0.86,"hi":0.93},{"series":"HLF: RBF SVM","fpr":0.4,"lo":0.91,"hi":0.96},{"series":"HLF: RBF SVM","fpr":0.6,"lo":0.96,"hi":1},{"series":"HLF: RBF SVM","fpr":1,"lo":1,"hi":1}
  ]
},
"resolve": {"scale": {"color": "independent", "strokeDash": "independent", "fill": "independent"}, "legend": {"color": "independent", "strokeDash": "independent"}},
"spacing": 8,
"hconcat": [
  {
    "title": {"text": "(a)", "orient": "bottom", "anchor": "middle", "font": "Liberation Sans", "fontWeight": "bold", "fontSize": 15, "offset": 8, "dx": 25},
    "resolve": {"scale": {"color": "independent", "strokeDash": "independent", "fill": "independent"}, "legend": {"color": "independent", "strokeDash": "independent"}},
    "vconcat": [
      {
        "title": "Receiver Operating Characteristic",
        "width": 597, "height": 486,
        "layer": [
          {
            "data": {"name": "bandsA"},
            "mark": {"type": "area", "opacity": 0.16, "clip": true},
            "encoding": {
              "x": {"field": "fpr", "type": "quantitative", "title": "False Positive Rate", "scale": {"domain": [-0.05, 1.05], "nice": false, "zero": false}, "axis": {"values": [0, 0.2, 0.4, 0.6, 0.8, 1], "format": ".1f"}},
              "y": {"field": "lo", "type": "quantitative", "title": "True Positive Rate", "scale": {"domain": [-0.05, 1.05], "nice": false, "zero": false}, "axis": {"values": [0, 0.2, 0.4, 0.6, 0.8, 1], "format": ".1f"}},
              "y2": {"field": "hi"},
              "fill": {"field": "series", "type": "nominal", "legend": null,
                "scale": {"domain": ["EEG: RBF SVM","EYE: RBF SVM","FF: RBF SVM","HLF:Linear SVM"],
                          "range": ["#22c8f5","#66cc22","#ffb822","#ff1f5e"]}}
            }
          },
          {
            "data": {"name": "linesA"},
            "mark": {"type": "line", "strokeWidth": 2.7, "clip": true},
            "encoding": {
              "x": {"field": "fpr", "type": "quantitative", "title": "False Positive Rate", "scale": {"domain": [-0.05, 1.05], "nice": false, "zero": false}, "axis": {"values": [0, 0.2, 0.4, 0.6, 0.8, 1], "format": ".1f"}},
              "y": {"field": "tpr", "type": "quantitative", "title": "True Positive Rate", "scale": {"domain": [-0.05, 1.05], "nice": false, "zero": false}, "axis": {"values": [0, 0.2, 0.4, 0.6, 0.8, 1], "format": ".1f"}},
              "color": {"field": "series", "type": "nominal", "title": null,
                "scale": {"domain": ["EEG:Linear SVM","EEG: RBF SVM","EEG: GBDT","EYE:Linear SVM","EYE: RBF SVM","EYE: GBDT","FF:Linear SVM","FF: RBF SVM","FF: GBDT","HLF:Linear SVM","HLF: RBF SVM","HLF: GBDT","LUCK"],
                          "range": ["#2233cc","#22c8f5","#22eebb","#2ee82e","#66cc22","#aaee44","#f5ea10","#ffb822","#ff6622","#ff1f5e","#b833ee","#ee88ee","#888888"]}},
              "strokeDash": {"field": "series", "type": "nominal", "title": null,
                "scale": {"domain": ["EEG:Linear SVM","EEG: RBF SVM","EEG: GBDT","EYE:Linear SVM","EYE: RBF SVM","EYE: GBDT","FF:Linear SVM","FF: RBF SVM","FF: GBDT","HLF:Linear SVM","HLF: RBF SVM","HLF: GBDT","LUCK"],
                          "range": [[1,0],[1,0],[1,0],[1,0],[1,0],[1,0],[1,0],[1,0],[1,0],[1,0],[1,0],[1,0],[9,5]]}}
            }
          }
        ]
      }
    ]
  },
  {
    "title": {"text": "(b)", "orient": "bottom", "anchor": "middle", "font": "Liberation Sans", "fontWeight": "bold", "fontSize": 15, "offset": 8, "dx": 7},
    "resolve": {"scale": {"color": "independent", "strokeDash": "independent", "fill": "independent"}, "legend": {"color": "independent", "strokeDash": "independent"}},
    "vconcat": [
      {
        "title": "Receiver Operating Characteristic",
        "width": 597, "height": 486,
        "layer": [
          {
            "data": {"name": "bandsB"},
            "mark": {"type": "area", "opacity": 0.16, "clip": true},
            "encoding": {
              "x": {"field": "fpr", "type": "quantitative", "title": "False Positive Rate", "scale": {"domain": [-0.05, 1.05], "nice": false, "zero": false}, "axis": {"values": [0, 0.2, 0.4, 0.6, 0.8, 1], "format": ".1f"}},
              "y": {"field": "lo", "type": "quantitative", "title": "True Positive Rate", "scale": {"domain": [-0.05, 1.05], "nice": false, "zero": false}, "axis": {"values": [0, 0.2, 0.4, 0.6, 0.8, 1], "format": ".1f"}},
              "y2": {"field": "hi"},
              "fill": {"field": "series", "type": "nominal", "legend": null,
                "scale": {"domain": ["EEG:Linear SVM","EEG: GBDT","EYE: RBF SVM","FF:Linear SVM","FF: RBF SVM","HLF: RBF SVM"],
                          "range": ["#2233cc","#22eebb","#66cc22","#f5ea10","#ffb822","#b833ee"]}}
            }
          },
          {
            "data": {"name": "linesB"},
            "mark": {"type": "line", "strokeWidth": 2.7, "clip": true},
            "encoding": {
              "x": {"field": "fpr", "type": "quantitative", "title": "False Positive Rate", "scale": {"domain": [-0.05, 1.05], "nice": false, "zero": false}, "axis": {"values": [0, 0.2, 0.4, 0.6, 0.8, 1], "format": ".1f"}},
              "y": {"field": "tpr", "type": "quantitative", "title": "True Positive Rate", "scale": {"domain": [-0.05, 1.05], "nice": false, "zero": false}, "axis": {"values": [0, 0.2, 0.4, 0.6, 0.8, 1], "format": ".1f"}},
              "color": {"field": "series", "type": "nominal", "title": null,
                "scale": {"domain": ["EEG:Linear SVM","EEG: RBF SVM","EEG: GBDT","EYE:Linear SVM","EYE: RBF SVM","EYE: GBDT","FF:Linear SVM","FF: RBF SVM","FF: GBDT","HLF:Linear SVM","HLF: RBF SVM","HLF: GBDT","LUCK"],
                          "range": ["#2233cc","#22c8f5","#22eebb","#2ee82e","#66cc22","#aaee44","#f5ea10","#ffb822","#ff6622","#ff1f5e","#b833ee","#ee88ee","#888888"]}},
              "strokeDash": {"field": "series", "type": "nominal", "title": null,
                "scale": {"domain": ["EEG:Linear SVM","EEG: RBF SVM","EEG: GBDT","EYE:Linear SVM","EYE: RBF SVM","EYE: GBDT","FF:Linear SVM","FF: RBF SVM","FF: GBDT","HLF:Linear SVM","HLF: RBF SVM","HLF: GBDT","LUCK"],
                          "range": [[1,0],[1,0],[1,0],[1,0],[1,0],[1,0],[1,0],[1,0],[1,0],[1,0],[1,0],[1,0],[9,5]]}}
            }
          }
        ]
      }
    ]
  }
]
}
